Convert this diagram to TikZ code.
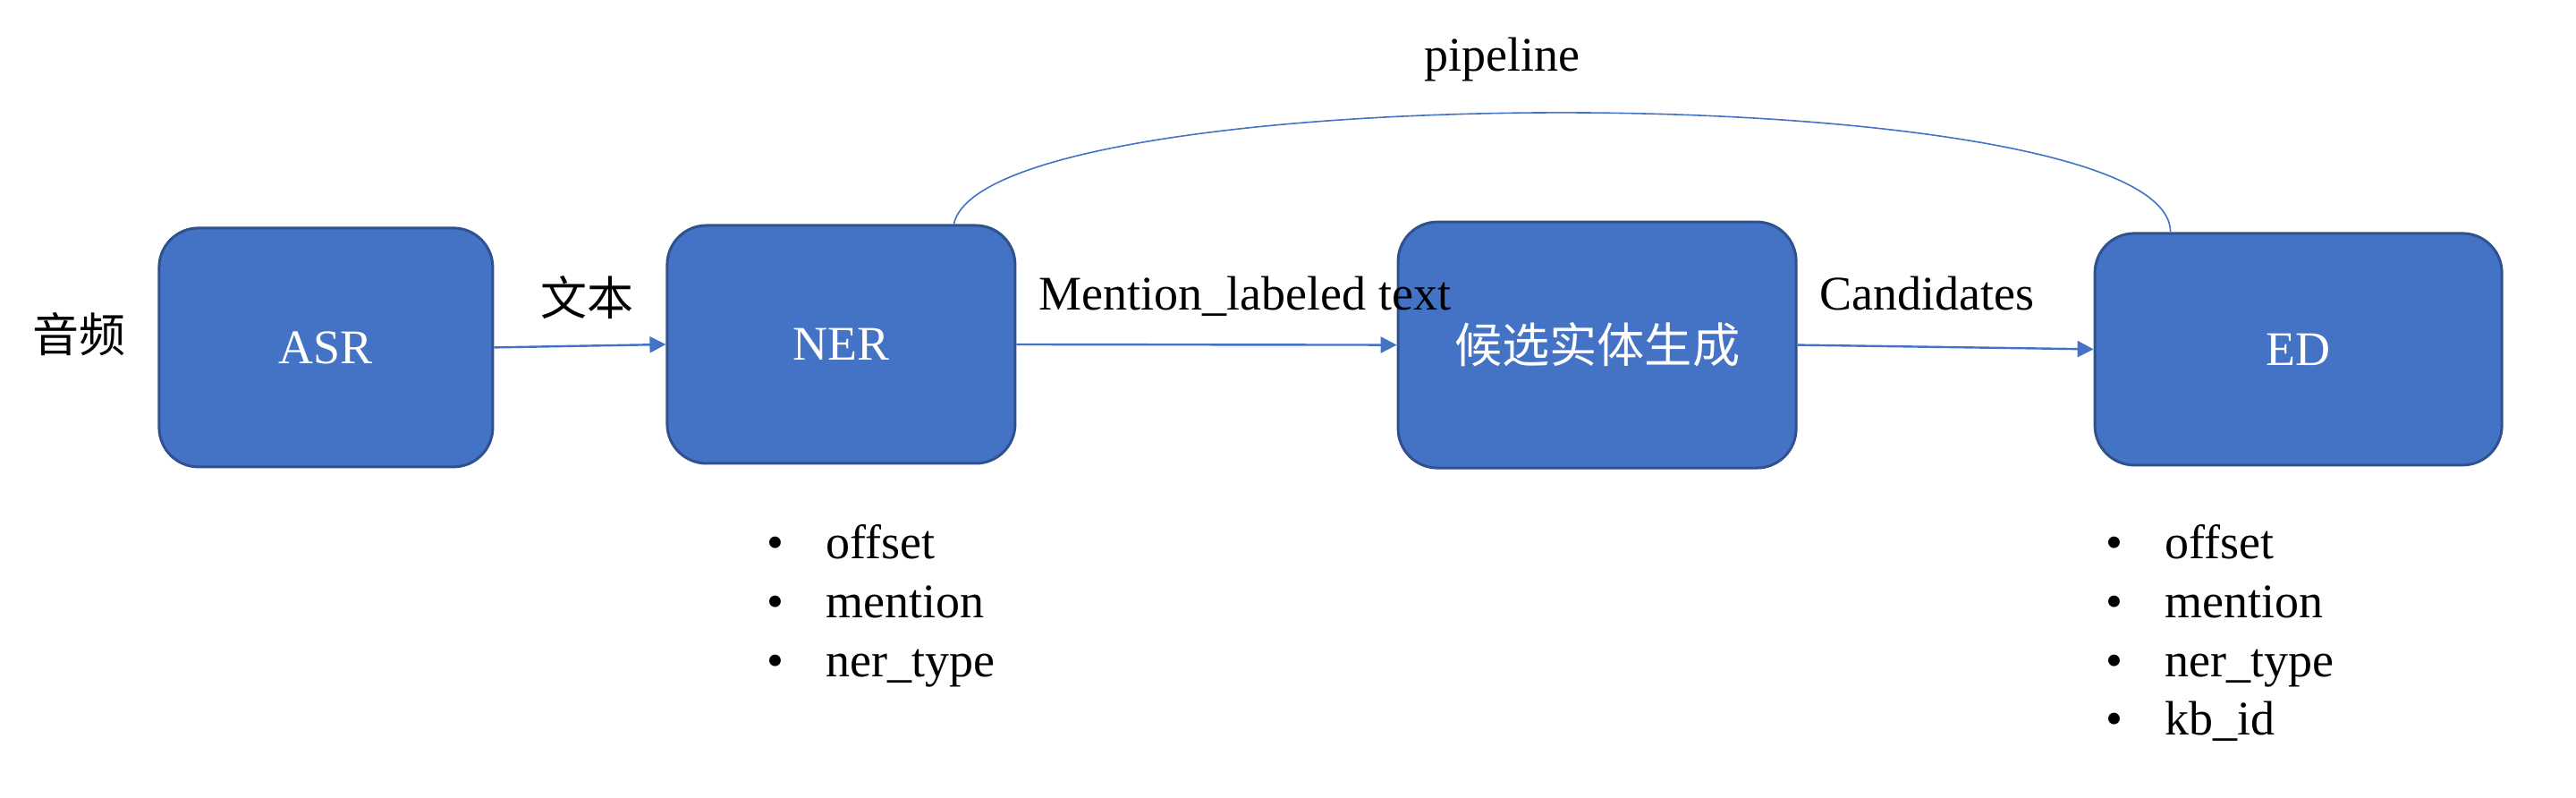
\documentclass[tikz,border=0pt]{standalone}
\usepackage{fontspec}
\setmainfont{Liberation Serif}
\newfontfamily\cjkfont{Noto Sans CJK SC}
\usetikzlibrary{arrows.meta}
\definecolor{pcFFFFFF}{HTML}{FFFFFF}
\definecolor{pc4472C4}{HTML}{4472C4}
\definecolor{pc2F528F}{HTML}{2F528F}
\definecolor{pc000000}{HTML}{000000}

\begin{document}
\begin{tikzpicture}[
  stage/.style={rectangle, rounded corners=11bp, fill=pc4472C4, draw=pc2F528F, line width=0.75bp, text=pcFFFFFF, inner sep=0, font=\fontsize{13.5bp}{16.4bp}\selectfont},
  lbl/.style={inner sep=0, text=pc000000, font=\fontsize{13.5bp}{16.4bp}\selectfont},
  flow/.style={-{Triangle[length=4.5bp,width=4.5bp]}, line width=0.6bp, color=pc4472C4},
]
\path[use as bounding box] (0bp,0bp) rectangle (720bp,223bp);
\path[fill=pcFFFFFF] (0bp,0bp) rectangle (720bp,223bp);
% stages
\node[stage, minimum width=93.25bp, minimum height=66.75bp] (asr) at (91.1bp,125.9bp) {ASR};
\node[stage, minimum width=97.25bp, minimum height=66.5bp] (ner) at (235.1bp,126.75bp) {NER};
\node[stage, minimum width=111.25bp, minimum height=68.75bp] (cand) at (446.4bp,126.6bp) {\cjkfont\fontsize{13.3bp}{16bp}\selectfont 候选实体生成};
\node[stage, minimum width=113.75bp, minimum height=64.75bp] (ed) at (642.4bp,125.4bp) {ED};
% labels
\node[lbl] (audio) at (22bp,129.5bp) {\cjkfont\fontsize{13bp}{16bp}\selectfont 音频};
\node[lbl] (txt) at (164bp,139.75bp) {\cjkfont\fontsize{13bp}{16bp}\selectfont 文本};
\node[lbl, anchor=base] (mlt) at (348bp,136.25bp) {Mention\_labeled text};
\node[lbl, anchor=base] (cands) at (538.5bp,136.25bp) {Candidates};
\node[lbl, anchor=base] (pipe) at (419.75bp,203bp) {pipeline};
% outputs
\node[lbl, anchor=base west] (nerlist) at (214.1bp,66.75bp) {\begin{tabular}[t]{@{}l@{}}
\makebox[16.6bp][l]{\textbullet}offset\\
\makebox[16.6bp][l]{\textbullet}mention\\
\makebox[16.6bp][l]{\textbullet}ner\_type
\end{tabular}};
\node[lbl, anchor=base west] (edlist) at (588.3bp,66.75bp) {\begin{tabular}[t]{@{}l@{}}
\makebox[16.6bp][l]{\textbullet}offset\\
\makebox[16.6bp][l]{\textbullet}mention\\
\makebox[16.6bp][l]{\textbullet}ner\_type\\
\makebox[16.6bp][l]{\textbullet}kb\_id
\end{tabular}};
% connectors
\draw[flow] (asr.east) -- (ner.west);
\draw[flow] (ner.east) -- (cand.west);
\draw[flow] (cand.east) -- (ed.west);
\draw[line width=0.4bp, color=pc4472C4] ([xshift=-17.5bp]ner.north east) .. controls +(9bp,42bp) and +(0bp,44bp) .. ([xshift=21.5bp]ed.north west);
\end{tikzpicture}
\end{document}
